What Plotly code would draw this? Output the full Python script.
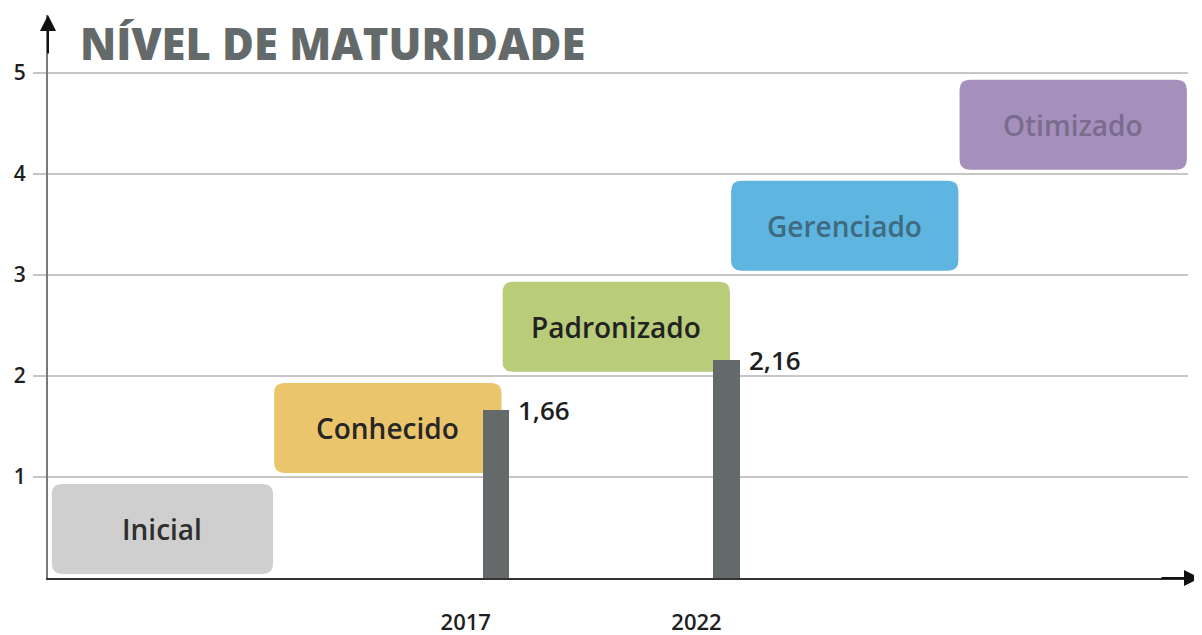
import plotly.graph_objects as go

# ---- data ----
levels = ["Inicial", "Conhecido", "Padronizado", "Gerenciado", "Otimizado"]
level_colors = ["#cfcfcf", "#ebc56b", "#b8cc7a", "#5db5e0", "#a590bd"]
level_text_colors = ["#2e2e2e", "#262626", "#222222", "#3f6b80", "#7b6b8c"]

years = ["2017", "2022"]
year_pos = [1.96, 2.97]          # position along the level scale
scores = [1.66, 2.16]
score_labels = ["1,66", "2,16"]

y_ticks = [1, 2, 3, 4, 5]
title_text = "NÍVEL DE MATURIDADE"

FONT = "Open Sans"
BAR_COLOR = "#646a69"

# the page body adds an 8px margin, so the figure is sized to fit inside it
W, H = 1194, 627

fig = go.Figure()

fig.add_trace(go.Bar(
    x=year_pos, y=scores, width=0.114,
    marker=dict(color=BAR_COLOR, line=dict(width=0)),
    hoverinfo="skip", showlegend=False,
))

def rounded_rect(x0, x1, y0, y1, rx, ry):
    return (f"M {x0+rx} {y0} L {x1-rx} {y0} Q {x1} {y0} {x1} {y0+ry} "
            f"L {x1} {y1-ry} Q {x1} {y1} {x1-rx} {y1} "
            f"L {x0+rx} {y1} Q {x0} {y1} {x0} {y1-ry} "
            f"L {x0} {y0+ry} Q {x0} {y0} {x0+rx} {y0} Z")

shapes = []
annotations = []
for i, (name, col, tcol) in enumerate(zip(levels, level_colors, level_text_colors)):
    x0, x1 = max(i - 0.01, 0.017), i + 0.985
    y0, y1 = i + 0.04, i + 0.93
    shapes.append(dict(type="path", xref="x", yref="y",
                       path=rounded_rect(x0, x1, y0, y1, 0.045, 0.1),
                       fillcolor=col, line=dict(width=0), layer="below"))
    annotations.append(dict(x=(x0 + x1) / 2, y=(y0 + y1) / 2, xref="x", yref="y",
                            text=name, showarrow=False,
                            font=dict(family=FONT, size=28, color=tcol, weight=600)))

for xp, v, lab in zip(year_pos, scores, score_labels):
    annotations.append(dict(x=xp, y=v, xref="x", yref="y", text=lab, showarrow=False,
                            xanchor="left", yanchor="middle", xshift=20,
                            font=dict(family=FONT, size=26, color="#1e1e1e", weight=600)))

Y_TOP = 5.57
X_END = 4.99
# axis arrows
annotations.append(dict(x=0, y=1, xref="paper", yref="paper", ax=0, ay=40, text="",
                        showarrow=True, arrowhead=2, arrowsize=1.6, arrowwidth=2,
                        arrowcolor="#111111"))
annotations.append(dict(x=1, y=0, xref="paper", yref="paper", ax=-40, ay=0, text="",
                        xshift=12,
                        showarrow=True, arrowhead=2, arrowsize=1.6, arrowwidth=2,
                        arrowcolor="#111111"))

fig.update_layout(
    width=W, height=H,
    margin=dict(l=40, r=14, t=7, b=57),
    paper_bgcolor="white", plot_bgcolor="white",
    shapes=shapes, annotations=annotations,
    title=dict(text=title_text, xref="container", yref="container",
               x=72 / W, y=1 - 37 / H, xanchor="left", yanchor="middle",
               font=dict(family=FONT, size=43.5, color=BAR_COLOR, weight=800)),
    xaxis=dict(range=[0, X_END], tickvals=year_pos, ticktext=years,
               showgrid=False, zeroline=False, showline=True,
               linecolor="#333333", linewidth=2, ticks="",
               ticklabelshift=-30, ticklabelstandoff=24,
               tickfont=dict(family=FONT, size=22, color="#1e1e1e", weight=600),
               automargin=False, fixedrange=True),
    yaxis=dict(range=[0, Y_TOP], tickvals=y_ticks, ticktext=[str(t) for t in y_ticks],
               showgrid=True, gridcolor="#c6c6c6", gridwidth=1.5,
               zeroline=False, showline=True, linecolor="#7a7a7a", linewidth=2,
               ticks="outside", ticklen=13, tickcolor="#c6c6c6", tickwidth=1.5,
               ticklabelstandoff=3,
               tickfont=dict(family=FONT, size=21, color="#1e1e1e", weight=600),
               automargin=False, fixedrange=True),
    bargap=0,
)

fig.write_html("out.html")
